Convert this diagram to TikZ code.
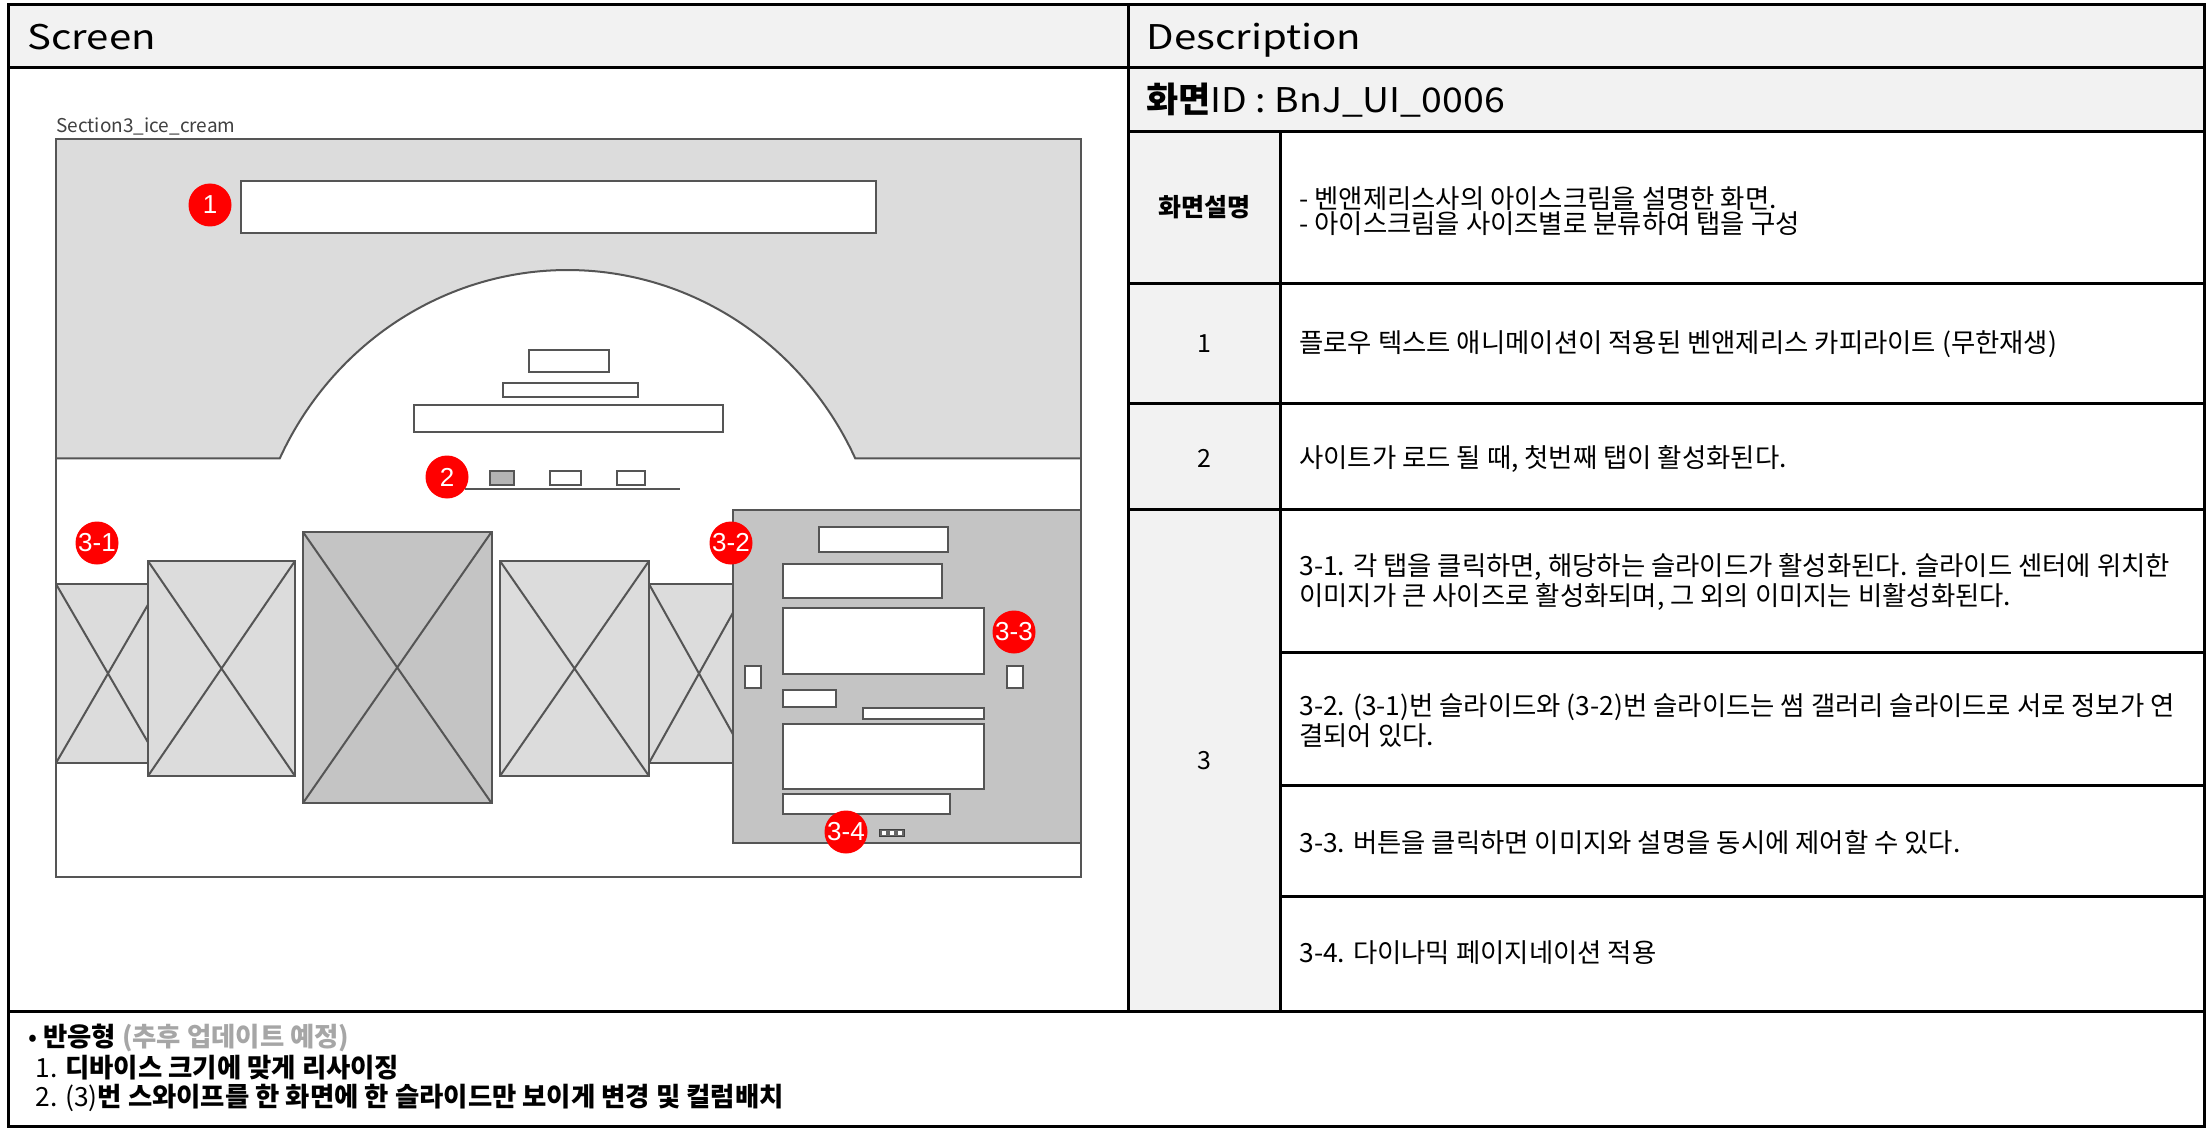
\documentclass[tikz,border=0pt]{standalone}
\usepackage{fontspec}
\setmainfont{Noto Sans CJK KR}
\newfontfamily\hdrfont[FakeStretch=1.18]{Noto Sans CJK KR}
\newfontfamily\idfont[FakeStretch=1.1]{Noto Sans CJK KR}
\newfontfamily\badgefont{Liberation Sans}
\definecolor{hdrfill}{HTML}{F2F2F2}
\definecolor{wfgray}{HTML}{555555}
\definecolor{lgray}{HTML}{DCDCDC}
\definecolor{dgray}{HTML}{C4C4C4}
\definecolor{tabgray}{HTML}{B4B4B4}
\definecolor{badgered}{HTML}{FF0000}
\definecolor{footgray}{HTML}{A6A6A6}
\definecolor{labelgray}{HTML}{404040}
\newcommand{\bodyfs}{\fontsize{13.2pt}{16pt}\selectfont}
\newcommand{\labelfs}{\fontsize{12.5pt}{15pt}\selectfont}
\newcommand{\hdrfs}{\fontsize{17pt}{20pt}\selectfont}
\tikzset{
  gridline/.style={line width=1.5pt, draw=black},
  wf/.style={draw=wfgray, line width=1pt},
  badge/.style={circle, fill=badgered, text=white, minimum size=21.5pt, inner sep=0pt,
    font=\badgefont\fontsize{13pt}{13pt}\selectfont},
  body/.style={anchor=base west, inner sep=0pt, font=\bodyfs},
  lbl/.style={anchor=base, inner sep=0pt, font=\labelfs},
  hdr/.style={anchor=base west, inner sep=0pt, font=\hdrfont\hdrfs},
}
\newcommand{\ximage}[5]{% x1,y1,x2,y2,fill
  \draw[wf, fill=#5] (#1,#2) rectangle (#3,#4);
  \draw[wf] (#1,#2) -- (#3,#4) (#1,#4) -- (#3,#2);
}
\begin{document}
\begin{tikzpicture}[x=0.5pt, y=-0.5pt]
\useasboundingbox (0,0) rectangle (2208,1129);
\fill[white] (0,0) rectangle (2208,1129);

% ---------- table fills ----------
\fill[hdrfill] (8,5) rectangle (2204,68);
\fill[hdrfill] (1128,68) rectangle (2204,132);
\fill[hdrfill] (1128,132) rectangle (1280,1011);

% ---------- wireframe ----------
\node[anchor=base west, inner sep=0pt, text=labelgray, font=\fontsize{9.5pt}{11pt}\selectfont] (seclbl) at (56,133) {Section3\_ice\_cream};
\fill[lgray] (56,139) rectangle (1081,458.3);
\fill[white] plot[domain=205.43:334.57, samples=120] ({567.5+318.6*cos(\x)},{600+330*sin(\x)}) -- cycle;
\draw[wf] (56,458.3) -- plot[domain=205.43:334.57, samples=120] ({567.5+318.6*cos(\x)},{600+330*sin(\x)}) -- (1081,458.3);
\draw[wf] (56,139) rectangle (1081,877);

% copy box
\draw[wf, fill=white] (241,181) rectangle (876,233);
% stacked boxes in arch
\draw[wf, fill=white] (529,350) rectangle (609,371.5);
\draw[wf, fill=white] (502.5,383) rectangle (637.5,397);
\draw[wf, fill=white] (414,405) rectangle (723,431.5);
% tabs
\draw[wf, fill=tabgray] (490,471) rectangle (514,485);
\draw[wf, fill=white] (550,471) rectangle (581,485);
\draw[wf, fill=white] (617,471) rectangle (645,485);
\draw[wf] (465,489) -- (680,489);

% slides
\ximage{56}{584}{160}{763}{lgray}
\ximage{148}{561}{295}{776}{lgray}
\ximage{303}{532}{491.5}{803}{dgray}
\ximage{649}{584}{749}{763}{lgray}
\ximage{500}{561}{649}{776}{lgray}

% detail panel
\draw[wf, fill=dgray] (733,510) rectangle (1081,843);
\draw[wf, fill=white] (819,527) rectangle (948,552);
\draw[wf, fill=white] (783,564) rectangle (942,598);
\draw[wf, fill=white] (783,608) rectangle (984,674);
\draw[wf, fill=white] (744.5,666) rectangle (761,688);
\draw[wf, fill=white] (1007,666) rectangle (1023,688);
\draw[wf, fill=white] (783,690) rectangle (836,707);
\draw[wf, fill=white] (863,708) rectangle (984,719);
\draw[wf, fill=white] (783,724) rectangle (984,789);
\draw[wf, fill=white] (783,794) rectangle (950,814);
% pagination
\draw[draw=black!75, fill=black!60, line width=0.5pt] (879,829) rectangle (904,836.5);
\fill[white] (882,831) rectangle (886,834.5);
\fill[white] (890,831) rectangle (894,834.5);
\fill[white] (898,831) rectangle (902,834.5);

% badges
\node[badge] (b1) at (210,205) {1};
\node[badge] (b2) at (447,477) {2};
\node[badge] (b31) at (97,543) {3-1};
\node[badge] (b32) at (731,543) {3-2};
\node[badge] (b33) at (1014,632) {3-3};
\node[badge] (b34) at (846,832) {3-4};

% ---------- table lines ----------
\draw[gridline] (8,5) rectangle (2204,1126);
\draw[gridline] (8,68) -- (2204,68);
\draw[gridline] (1128,5) -- (1128,1011);
\draw[gridline] (8,1011) -- (2204,1011);
\draw[gridline] (1128,132) -- (2204,132);
\draw[gridline] (1280,132) -- (1280,1011);
\draw[gridline] (1128,283) -- (2204,283);
\draw[gridline] (1128,403) -- (2204,403);
\draw[gridline] (1128,509) -- (2204,509);
\draw[gridline] (1280,652) -- (2204,652);
\draw[gridline] (1280,785) -- (2204,785);
\draw[gridline] (1280,896) -- (2204,896);

% ---------- table texts ----------
\node[hdr] (hscreen) at (27,50) {Screen};
\node[hdr] (hdesc) at (1146,50) {Description};
\node[anchor=base west, inner sep=0pt] (hid) at (1146,113) {{\bfseries\fontsize{17.5pt}{20pt}\selectfont 화면}{\idfont\hdrfs ID : BnJ\_UI\_0006}};

\node[lbl, font=\labelfs\bfseries] (l0) at (1204,217) {화면설명};
\node[lbl] (l1) at (1204,352) {1};
\node[lbl] (l2) at (1204,467) {2};
\node[lbl] (l3) at (1204,769) {3};

\node[body] (t0a) at (1299,208) {- 벤앤제리스사의 아이스크림을 설명한 화면.};
\node[body] (t0b) at (1299,234) {- 아이스크림을 사이즈별로 분류하여 탭을 구성};
\node[body] (t1) at (1299,352) {플로우 텍스트 애니메이션이 적용된 벤앤제리스 카피라이트 (무한재생)};
\node[body] (t2) at (1299,467) {사이트가 로드 될 때, 첫번째 탭이 활성화된다.};
\node[body] (t31a) at (1299,575) {3-1. 각 탭을 클릭하면, 해당하는 슬라이드가 활성화된다. 슬라이드 센터에 위치한};
\node[body] (t31b) at (1299,605) {이미지가 큰 사이즈로 활성화되며, 그 외의 이미지는 비활성화된다.};
\node[body] (t32a) at (1299,715) {3-2. (3-1)번 슬라이드와 (3-2)번 슬라이드는 썸 갤러리 슬라이드로 서로 정보가 연};
\node[body] (t32b) at (1299,745) {결되어 있다.};
\node[body] (t33) at (1299,852) {3-3. 버튼을 클릭하면 이미지와 설명을 동시에 제어할 수 있다.};
\node[body] (t34) at (1299,962) {3-4. 다이나믹 페이지네이션 적용};

% ---------- footer ----------
\node[body] (f1) at (28,1046) {• \textbf{반응형} \textbf{\color{footgray}(추후 업데이트 예정)}};
\node[body] (f2) at (35,1077) {1. \textbf{디바이스 크기에 맞게 리사이징}};
\node[body] (f3) at (35,1106) {2. (3)\textbf{번 스와이프를 한 화면에 한 슬라이드만 보이게 변경 및 컬럼배치}};
\end{tikzpicture}
\end{document}
